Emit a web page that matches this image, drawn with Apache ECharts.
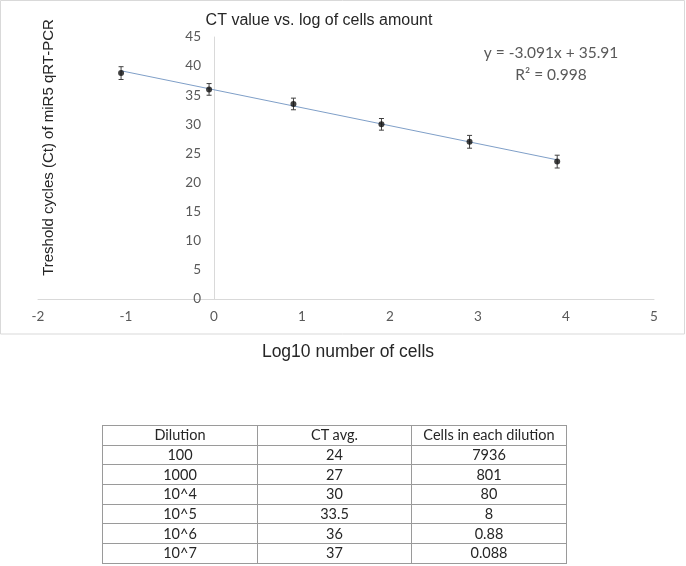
<!DOCTYPE html>
<html><head><meta charset="utf-8">
<script src="https://cdn.jsdelivr.net/npm/echarts@6/dist/echarts.min.js"></script>
<style>
html,body{margin:0;padding:0;background:#fff;}
#chart{position:absolute;left:0;top:0;width:686px;height:566px;}
#tbl{position:absolute;left:102px;top:425px;border-collapse:collapse;font-family:Lato,'Open Sans',sans-serif;font-size:14.5px;color:#262626;table-layout:fixed;width:464px;}
#tbl td{border:1px solid #9a9a9a;height:18.7px;padding:0;text-align:center;line-height:18px;white-space:nowrap;}
</style></head><body>
<div id="chart"></div>
<table id="tbl"><colgroup><col style="width:155px"><col style="width:154px"><col style="width:155px"></colgroup><tbody></tbody></table>
<script>
// Chart data (x = log10 number of cells, y = Ct)
const logCells = [-1.056, -0.056, 0.903, 1.903, 2.904, 3.900];
const ctValues = [38.8, 36.0, 33.5, 30.0, 27.0, 23.6];
const ctErrors = [1.1, 1.0, 1.0, 1.0, 1.1, 1.1];
const trendX = [-1.056, 3.900];
const trendY = [39.2, 23.9];
const xTickMin = -2, xTickMax = 5, xTickStep = 1;
const yTickMin = 0, yTickMax = 45, yTickStep = 5;

// Texts
const chartTitle = 'CT value vs. log of cells amount';
const xTitle = 'Log10 number of cells';
const yTitle = 'Treshold cycles (Ct) of miR5 qRT-PCR';
const eqText = 'y = -3.091x + 35.91';
const r2Text = 'R² = 0.998';

// Table data
const tableHeader = ['Dilution', 'CT avg.', 'Cells in each dilution'];
const dilution = ['100', '1000', '10^4', '10^5', '10^6', '10^7'];
const ctAvg = ['24', '27', '30', '33.5', '36', '37'];
const cellsEach = ['7936', '801', '80', '8', '0.88', '0.088'];

// Build table
const tb = document.querySelector('#tbl tbody');
function addRow(cells) {
  const tr = document.createElement('tr');
  cells.forEach(c => { const td = document.createElement('td'); td.textContent = c; tr.appendChild(td); });
  tb.appendChild(tr);
}
addRow(tableHeader);
dilution.forEach((d, i) => addRow([d, ctAvg[i], cellsEach[i]]));

const pts = logCells.map((x, i) => [x, ctValues[i]]);
const errData = logCells.map((x, i) => [x, ctValues[i] - ctErrors[i], ctValues[i] + ctErrors[i]]);
const trendData = trendX.map((x, i) => [x, trendY[i]]);

const GRID_LEFT = 38;
const chart = echarts.init(document.getElementById('chart'), null, {renderer: 'canvas'});
const calib = 'Lato, "Open Sans", sans-serif';
chart.setOption({
  animation: false,
  backgroundColor: '#fff',
  grid: {left: GRID_LEFT, right: 32, top: 37, bottom: 267, containLabel: false},
  xAxis: {
    type: 'value', min: xTickMin, max: xTickMax, interval: xTickStep,
    axisLine: {show: true, onZero: true, lineStyle: {color: '#d9d9d9', width: 1}},
    axisTick: {show: false},
    splitLine: {show: false},
    axisLabel: {color: '#595959', fontFamily: calib, fontSize: 13.5, margin: 11}
  },
  yAxis: {
    type: 'value', min: yTickMin, max: yTickMax, interval: yTickStep,
    axisLine: {show: true, onZero: false, lineStyle: {color: '#d9d9d9', width: 1}},
    axisTick: {show: false},
    splitLine: {show: false},
    axisLabel: {color: '#595959', fontFamily: calib, fontSize: 13.5, margin: 13}
  },
  graphic: [
    {type: 'rect', shape: {x: 0.5, y: 0.5, width: 684, height: 333.5}, style: {fill: 'none', stroke: '#d9d9d9', lineWidth: 1}, silent: true, z: -10},
    {type: 'text', x: 319, y: 21, style: {text: chartTitle, font: '16px "Liberation Sans", Arial, sans-serif', fill: '#262626', textAlign: 'center', textVerticalAlign: 'middle'}},
    {type: 'text', x: 348, y: 352, style: {text: xTitle, font: '17.5px "Liberation Sans", Arial, sans-serif', fill: '#262626', textAlign: 'center', textVerticalAlign: 'middle'}},
    {type: 'text', x: 49, y: 147.5, rotation: Math.PI / 2, style: {text: yTitle, font: '15px "Liberation Sans", Arial, sans-serif', fill: '#262626', textAlign: 'center', textVerticalAlign: 'middle'}},
    {type: 'text', x: 551, y: 53, style: {text: eqText, font: '15.5px Lato, "Open Sans", sans-serif', fill: '#595959', textAlign: 'center', textVerticalAlign: 'middle'}},
    {type: 'text', x: 551, y: 75, style: {text: r2Text, font: '15.5px Lato, "Open Sans", sans-serif', fill: '#595959', textAlign: 'center', textVerticalAlign: 'middle'}}
  ],
  series: [
    {
      type: 'line', data: trendData, showSymbol: false, symbol: 'none',
      lineStyle: {color: '#7f9fc8', width: 1}, z: 2, silent: true
    },
    {
      type: 'custom', data: errData, z: 3, silent: true,
      renderItem: function (params, api) {
        const x = api.value(0);
        const lo = api.coord([x, api.value(1)]);
        const hi = api.coord([x, api.value(2)]);
        const w = 2.5;
        const st = {stroke: '#404040', lineWidth: 1};
        return {type: 'group', children: [
          {type: 'line', shape: {x1: lo[0], y1: lo[1], x2: hi[0], y2: hi[1]}, style: st},
          {type: 'line', shape: {x1: lo[0] - w, y1: lo[1], x2: lo[0] + w, y2: lo[1]}, style: st},
          {type: 'line', shape: {x1: hi[0] - w, y1: hi[1], x2: hi[0] + w, y2: hi[1]}, style: st}
        ]};
      }
    },
    {
      type: 'scatter', data: pts, symbol: 'circle', symbolSize: 6,
      itemStyle: {color: '#111'}, z: 4
    }
  ]
});
// Move the y axis (line + labels) to x = 0 using the library's own x scale
const zeroPx = chart.convertToPixel({xAxisIndex: 0}, 0);
chart.setOption({yAxis: {offset: -(zeroPx - GRID_LEFT)}});
</script>
</body></html>
